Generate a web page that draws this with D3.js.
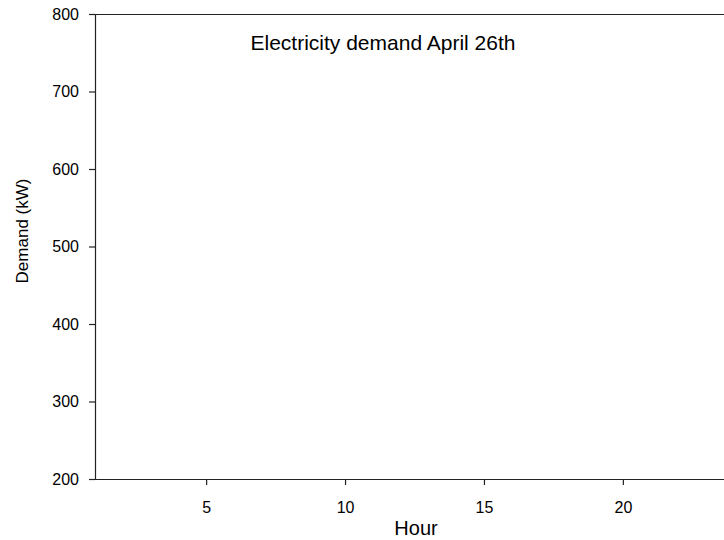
<!DOCTYPE html>
<html>
<head>
<meta charset="utf-8">
<script src="https://cdn.jsdelivr.net/npm/d3@7"></script>
<style>
  html, body { margin: 0; padding: 0; background: #fff; }
  svg { display: block; font-family: "Liberation Sans", Arial, sans-serif; }
</style>
</head>
<body>
<svg id="chart" width="724" height="540"></svg>
<script>
// Data (the reference chart shows an empty plot: no series drawn)
const hours = [];
const demand = [];
const xDomain = [1, 24];
const yDomain = [200, 800];
const xTicks = [5, 10, 15, 20];
const yTicks = [200, 300, 400, 500, 600, 700, 800];
const title = "Electricity demand April 26th";
const xLabel = "Hour";
const yLabel = "Demand (kW)";

const svg = d3.select("#chart");
const mLeft = 95, mRight = 734, mTop = 14, mBottom = 479;
const FONT = "Liberation Sans, Arial, sans-serif";

const x = d3.scaleLinear().domain(xDomain).range([mLeft, mRight]);
const y = d3.scaleLinear().domain(yDomain).range([mBottom, mTop]);

// Top frame line
svg.append("line")
  .attr("x1", mLeft - 6).attr("x2", 724)
  .attr("y1", mTop + 0.5).attr("y2", mTop + 0.5)
  .attr("stroke", "#222").attr("stroke-width", 1.2);

// Y axis
const yAxis = svg.append("g")
  .attr("transform", `translate(${mLeft},0)`)
  .call(d3.axisLeft(y).tickValues(yTicks).tickSize(6).tickPadding(10).tickFormat(d3.format("d")));
yAxis.attr("font-size", 16).attr("font-family", FONT);
yAxis.select(".domain").attr("stroke", "#222").attr("stroke-width", 1.2);
yAxis.selectAll(".tick line").attr("stroke", "#222").attr("stroke-width", 1.2);
yAxis.selectAll("text").attr("fill", "#000");

// X axis
const xAxis = svg.append("g")
  .attr("transform", `translate(0,${mBottom})`)
  .call(d3.axisBottom(x).tickValues(xTicks).tickSize(6).tickPadding(17).tickFormat(d3.format("d")));
xAxis.attr("font-size", 16).attr("font-family", FONT);
xAxis.select(".domain").attr("stroke", "#222").attr("stroke-width", 1.2)
  .attr("d", `M${mLeft - 6},0.5H${mRight}`);
xAxis.selectAll(".tick line").attr("stroke", "#222").attr("stroke-width", 1.2);
xAxis.selectAll("text").attr("fill", "#000");

// Series (none in the reference)
if (hours.length) {
  svg.append("path")
    .datum(hours.map((h, i) => [h, demand[i]]))
    .attr("fill", "none").attr("stroke", "#000")
    .attr("d", d3.line().x(d => x(d[0])).y(d => y(d[1])));
}

// Title
svg.append("text")
  .attr("x", 383).attr("y", 50)
  .attr("text-anchor", "middle")
  .attr("font-size", 21)
  .attr("fill", "#000")
  .text(title);

// Axis labels
svg.append("text")
  .attr("x", 416).attr("y", 535)
  .attr("text-anchor", "middle")
  .attr("font-size", 20)
  .attr("fill", "#000")
  .text(xLabel);

svg.append("text")
  .attr("transform", "translate(28,231) rotate(-90)")
  .attr("text-anchor", "middle")
  .attr("font-size", 17)
  .attr("fill", "#000")
  .text(yLabel);
</script>
</body>
</html>
